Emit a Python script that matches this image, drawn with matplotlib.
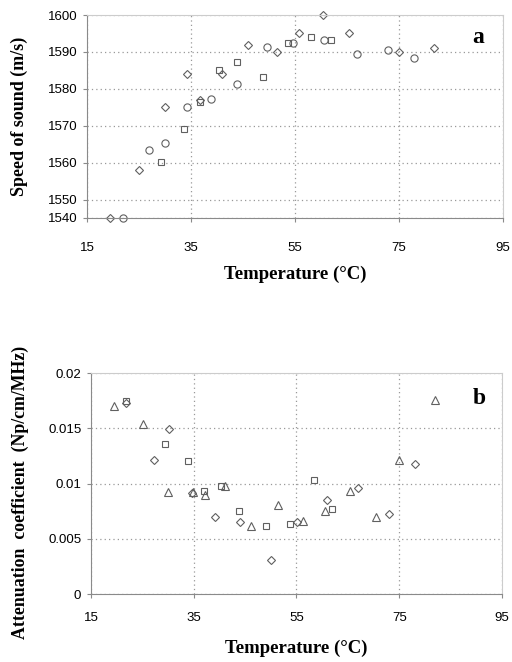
import matplotlib.pyplot as plt

# panel a: speed of sound (m/s) vs temperature (deg C), three samples
a_dia_t = [19.4, 24.9, 30.0, 34.2, 36.7, 41.0, 45.9, 51.5, 55.8, 60.3, 65.3, 75.0, 81.8]
a_dia_v = [1545, 1558, 1575, 1584, 1577, 1584, 1592, 1590, 1595, 1600, 1595, 1590, 1591]
a_cir_t = [21.9, 26.9, 29.9, 34.2, 38.8, 43.8, 49.7, 54.6, 60.6, 66.9, 72.8, 77.8]
a_cir_v = [1545, 1563.3, 1565.3, 1575.2, 1577.2, 1581.4, 1591.3, 1592.3, 1593.2, 1589.4, 1590.4, 1588.3]
a_sq_t = [29.2, 33.7, 36.7, 40.3, 43.8, 48.8, 53.7, 58.1, 61.9]
a_sq_v = [1560.2, 1569.2, 1576.3, 1585.1, 1587.2, 1583.3, 1592.3, 1594.1, 1593.2]

# panel b: attenuation coefficient (Np/cm/MHz)
b_tri_t = [19.5, 25.1, 30.0, 34.8, 37.2, 41.0, 46.1, 51.4, 56.2, 60.5, 65.5, 70.4, 75.0, 81.9]
b_tri_v = [0.0170, 0.0154, 0.0092, 0.0092, 0.0090, 0.0098, 0.0062, 0.0081,
           0.0066, 0.0075, 0.0093, 0.0070, 0.0121, 0.0176]
b_dia_t = [21.9, 27.2, 30.1, 34.6, 39.1, 44.0, 50.0, 55.1, 60.9, 67.0, 73.0, 78.0]
b_dia_v = [0.0173, 0.0121, 0.0149, 0.0091, 0.0070, 0.0065, 0.0031, 0.0065,
           0.0085, 0.0096, 0.0072, 0.0118]
b_sq_t = [21.9, 29.5, 33.9, 37.0, 40.4, 43.9, 49.0, 53.7, 58.4, 62.0]
b_sq_v = [0.0175, 0.0136, 0.0120, 0.0093, 0.0098, 0.0075, 0.0062, 0.0063, 0.0103, 0.0077]

x_ticks = [15, 35, 55, 75, 95]
# the reference squeezes the bottom interval: lowest tick reads 1540 at 1545
a_ticks = [1545, 1550, 1560, 1570, 1580, 1590, 1600]
a_tick_labels = ["1540", "1550", "1560", "1570", "1580", "1590", "1600"]
b_ticks = [0, 0.005, 0.01, 0.015, 0.02]
b_tick_labels = ["0", "0.005", "0.01", "0.015", "0.02"]

EDGE = "#606060"
SANS = "Liberation Sans"
SERIF = "Liberation Serif"


def style_axes(ax, xpad):
    ax.set_xlim(15, 95)
    ax.set_xticks(x_ticks)
    ax.set_xticklabels([str(t) for t in x_ticks], fontfamily=SANS, fontsize=9.5)
    ax.grid(True, color="#999999", linestyle=(0, (1, 2.5)), linewidth=0.9)
    ax.set_axisbelow(True)
    for side in ("left", "bottom"):
        ax.spines[side].set_color("#8a8a8a")
    for side in ("top", "right"):
        ax.spines[side].set_color("#cccccc")
    ax.tick_params(axis="both", direction="out", length=3, color="#8a8a8a", width=0.8)
    ax.tick_params(axis="x", pad=xpad)
    ax.tick_params(axis="y", pad=4)


def scatter(ax, t, v, marker, ms):
    ax.plot(t, v, linestyle="none", marker=marker, markersize=ms,
            markerfacecolor="none", markeredgecolor=EDGE, markeredgewidth=0.8,
            clip_on=False)


fig = plt.figure(figsize=(5.12, 6.62), dpi=100)

ax_a = fig.add_axes([0.170, 0.6707, 0.8125, 0.3066])
style_axes(ax_a, 14)
ax_a.set_ylim(1545, 1600)
ax_a.set_yticks(a_ticks)
ax_a.set_yticklabels(a_tick_labels, fontfamily=SANS, fontsize=9.5)
scatter(ax_a, a_dia_t, a_dia_v, "D", 4)
scatter(ax_a, a_cir_t, a_cir_v, "o", 5.2)
scatter(ax_a, a_sq_t, a_sq_v, "s", 4.3)
ax_a.set_xlabel("Temperature (°C)", fontfamily=SERIF, fontweight="bold", fontsize=13.5, labelpad=9)
ax_a.set_ylabel("Speed of sound (m/s)", fontfamily=SERIF, fontweight="bold", fontsize=13, labelpad=14)
ax_a.text(0.94, 0.89, "a", transform=ax_a.transAxes, fontfamily=SERIF,
          fontweight="bold", fontsize=17, ha="center", va="center")

ax_b = fig.add_axes([0.1777, 0.1027, 0.8027, 0.3338])
style_axes(ax_b, 10)
ax_b.set_ylim(0, 0.02)
ax_b.set_yticks(b_ticks)
ax_b.set_yticklabels(b_tick_labels, fontfamily=SANS, fontsize=9.5)
scatter(ax_b, b_tri_t, b_tri_v, "^", 5.6)
scatter(ax_b, b_dia_t, b_dia_v, "D", 4)
scatter(ax_b, b_sq_t, b_sq_v, "s", 4.3)
ax_b.set_xlabel("Temperature (°C)", fontfamily=SERIF, fontweight="bold", fontsize=13.5, labelpad=11)
ax_b.set_ylabel("Attenuation  coefficient  (Np/cm/MHz)", fontfamily=SERIF,
                fontweight="bold", fontsize=12.8)
ax_b.yaxis.set_label_coords(-0.15, 0.46)
ax_b.text(0.945, 0.885, "b", transform=ax_b.transAxes, fontfamily=SERIF,
          fontweight="bold", fontsize=17, ha="center", va="center")

fig.savefig("out.png", dpi=100)
